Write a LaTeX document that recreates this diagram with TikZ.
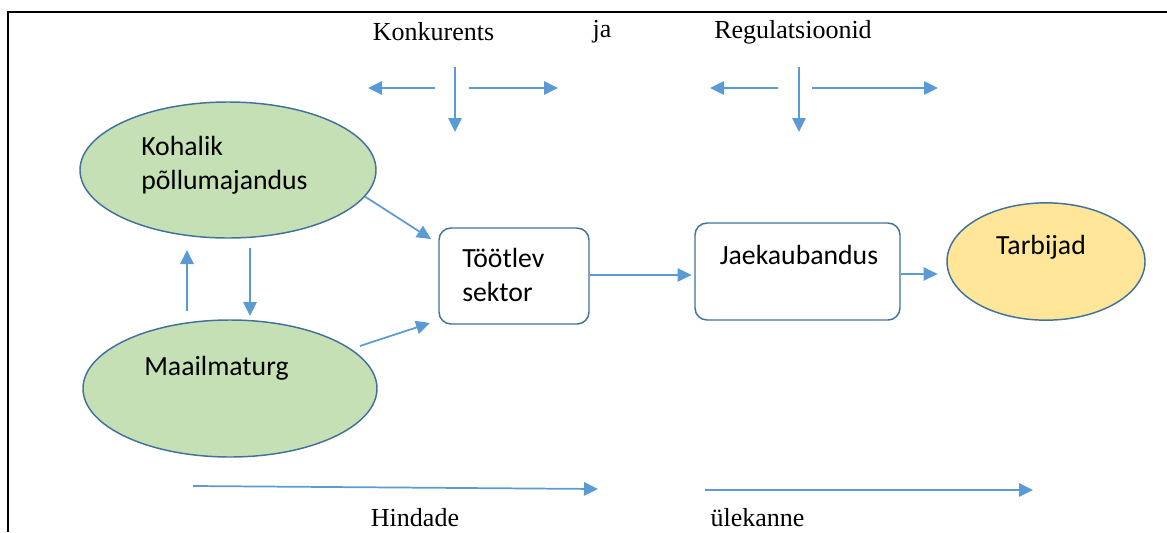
\documentclass[tikz,border=0pt]{standalone}
\usepackage{fontspec}
\setmainfont{Liberation Serif}
\newfontfamily\calfont{Carlito}
\usetikzlibrary{shapes.geometric,arrows.meta}
\definecolor{arrowblue}{HTML}{5B9BD5}
\definecolor{edgeblue}{HTML}{41719C}
\definecolor{greenfill}{HTML}{C5E0B4}
\definecolor{goldfill}{HTML}{FFE699}
\begin{document}
\begin{tikzpicture}[x=0.75pt,y=-0.75pt,
  flow/.style={draw=arrowblue,line width=1.3pt,-{Triangle[length=10.5pt,width=10pt]}},
  oval/.style={ellipse,draw=edgeblue,line width=1.1pt,inner sep=0pt},
  boxnode/.style={rectangle,rounded corners=9pt,draw=edgeblue,line width=1.1pt,fill=white,inner sep=0pt},
  ctext/.style={font=\calfont\fontsize{20.8}{25.6}\selectfont,inner sep=0pt,align=left},
  stext/.style={font=\fontsize{19.5}{23}\selectfont,inner sep=0pt}]
\useasboundingbox (0,0) rectangle (1167,532);
% frame
\draw[line width=1.5pt] (8,532) -- (8,12) -- (1167,12);

% top labels
\node[stext] (konk) at (433.5,32) {Konkurents};
\node[stext] (ja) at (602,32) {ja};
\node[stext] (reg) at (793,32) {Regulatsioonid};

% top arrow groups
\coordinate (k1s) at (435,88); \coordinate (k1e) at (368,88);
\coordinate (k2s) at (455,67); \coordinate (k2e) at (455,132);
\coordinate (k3s) at (469,88); \coordinate (k3e) at (558,88);
\draw[flow] (k1s) -- (k1e);
\draw[flow] (k2s) -- (k2e);
\draw[flow] (k3s) -- (k3e);
\coordinate (r1s) at (778,88); \coordinate (r1e) at (710,88);
\coordinate (r2s) at (799,67); \coordinate (r2e) at (799,132);
\coordinate (r3s) at (812,88); \coordinate (r3e) at (938,88);
\draw[flow] (r1s) -- (r1e);
\draw[flow] (r2s) -- (r2e);
\draw[flow] (r3s) -- (r3e);

% nodes
\node[oval,fill=greenfill,minimum width=222pt,minimum height=102pt] (koh) at (228,170) {};
\node[ctext,anchor=west] (kohtxt) at (141,165.5) {Kohalik\\põllumajandus};
\node[oval,fill=greenfill,minimum width=220.5pt,minimum height=102.75pt] (maa) at (230,388.5) {};
\node[ctext,anchor=west] (maatxt) at (144,368) {Maailmaturg};
\node[boxnode,minimum width=112.5pt,minimum height=72pt] (toot) at (514,276) {};
\node[ctext,anchor=west] (toottxt) at (462,275) {Töötlev\\sektor};
\node[boxnode,minimum width=153.75pt,minimum height=72.75pt] (jaek) at (797.5,271.5) {};
\node[ctext] (jaektxt) at (799,255) {Jaekaubandus};
\node[oval,fill=goldfill,minimum width=148.5pt,minimum height=88pt] (tarb) at (1046,261.5) {};
\node[ctext] (tarbtxt) at (1041,247) {Tarbijad};

% connectors
\coordinate (kt) at (431,239);
\draw[flow] (koh.-11) -- (kt);
\coordinate (ms) at (360,346); \coordinate (mt) at (430,323);
\draw[flow] (ms) -- (mt);
\coordinate (us) at (187,311); \coordinate (ue) at (187,250);
\draw[flow] (us) -- (ue);
\coordinate (ds) at (250,248); \coordinate (de) at (250,316);
\draw[flow] (ds) -- (de);
\draw[flow] (toot.east |- 0,275) -- ([xshift=-2pt]jaek.west |- 0,275);
\draw[flow] (jaek.east |- 0,274) -- ([xshift=-6.5pt]tarb.west |- 0,274);

% bottom arrows and labels
\coordinate (b1s) at (193,486); \coordinate (b1e) at (598,489);
\draw[flow] (b1s) -- (b1e);
\coordinate (b2s) at (705,490); \coordinate (b2e) at (1033,490);
\draw[flow] (b2s) -- (b2e);
\node[stext] (hind) at (415,518) {Hindade};
\node[stext] (ulek) at (757.5,518) {ülekanne};
\end{tikzpicture}
\end{document}
